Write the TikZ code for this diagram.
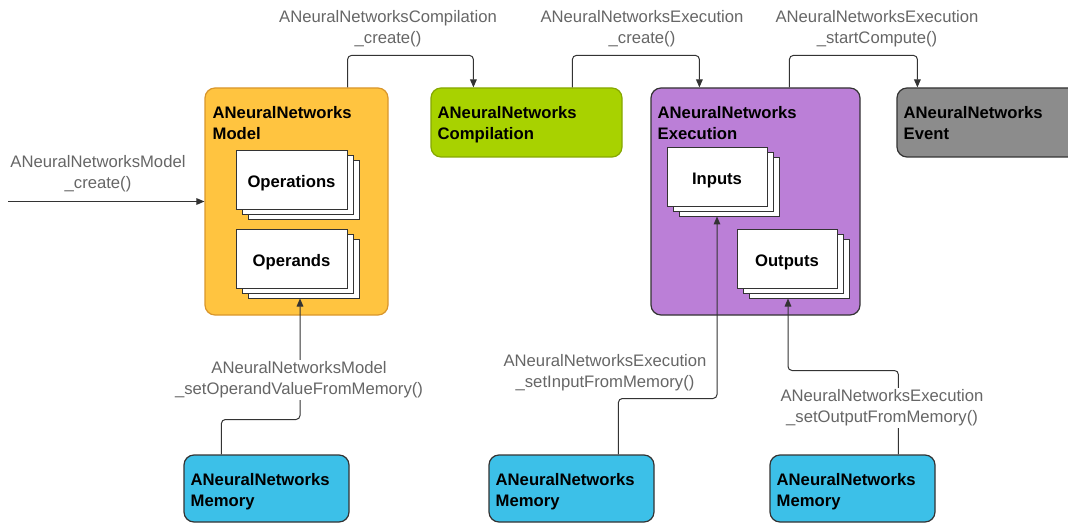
\documentclass[tikz,border=0pt]{standalone}
\usepackage{fontspec}
\setmainfont{Liberation Sans}
\usetikzlibrary{positioning, calc, arrows.meta, shadows}
\definecolor{Ink}{HTML}{333333}
\definecolor{Caption}{HTML}{666666}
\definecolor{ModelFill}{HTML}{FFC440}
\definecolor{ModelLine}{HTML}{D9962B}
\definecolor{CompFill}{HTML}{A8D200}
\definecolor{CompLine}{HTML}{86A800}
\definecolor{ExecFill}{HTML}{BB7FD7}
\definecolor{EventFill}{HTML}{8C8C8C}
\definecolor{MemFill}{HTML}{3CC0E8}
\tikzset{
    apibox/.style={rectangle, rounded corners=7.5pt, line width=0.9pt, inner sep=0pt},
    title/.style={anchor=north west, inner sep=0pt, align=left, text=black, font=\fontsize{12.5}{15.75}\selectfont\bfseries},
    stack/.style={rectangle, draw=Ink, fill=white, line width=0.75pt, inner sep=0pt,
        text height=11pt, text depth=0pt,
        font=\fontsize{12.5}{15}\selectfont\bfseries,
        double copy shadow={shadow xshift=4.5pt, shadow yshift=-3.75pt, fill=white, draw=Ink, line width=0.75pt}},
    call/.style={align=center, inner sep=1pt, text=Caption, font=\fontsize{12.5}{15.75}\selectfont},
    arr/.style={-{Triangle[length=6pt, width=5pt]}, line width=0.75pt, color=Ink, rounded corners=3pt},
}
\begin{document}
\begin{tikzpicture}[x=0.75pt, y=-0.75pt]
    \path[use as bounding box, clip] (0,0) rectangle (1068,524);

    % Oggetti principali
    \node[apibox, fill=ModelFill, draw=ModelLine, minimum width=137.25pt, minimum height=170.25pt] (model) at (296.5,201.5) {};
    \node[apibox, fill=CompFill, draw=CompLine, minimum width=143.25pt, minimum height=51.75pt] (comp) at (526.5,122.5) {};
    \node[apibox, fill=ExecFill, draw=Ink, minimum width=156.75pt, minimum height=170.25pt] (exec) at (755.5,201.5) {};
    \node[apibox, fill=EventFill, draw=Ink, minimum width=137.25pt, minimum height=51.75pt] (event) at (988.5,122.5) {};

    \node[title] (model-title) at ($(model.north west)+(8,19)$) {ANeuralNetworks\\Model};
    \node[title] (comp-title) at ($(comp.north west)+(7,19)$) {ANeuralNetworks\\Compilation};
    \node[title] (exec-title) at ($(exec.north west)+(7,19)$) {ANeuralNetworks\\Execution};
    \node[title] (event-title) at ($(event.north west)+(7,19)$) {ANeuralNetworks\\Event};

    % Blocchi di memoria
    \node[apibox, fill=MemFill, draw=Ink, minimum width=123.75pt, minimum height=50.25pt] (mem1) at (266.5,488.5) {};
    \node[apibox, fill=MemFill, draw=Ink, minimum width=123.75pt, minimum height=50.25pt] (mem2) at (571.5,488.5) {};
    \node[apibox, fill=MemFill, draw=Ink, minimum width=123.75pt, minimum height=50.25pt] (mem3) at (852.5,488.5) {};
    \foreach \m in {mem1, mem2, mem3}
        \node[title] (\m-title) at ($(\m.north west)+(7,19)$) {ANeuralNetworks\\Memory};

    % Pile interne
    \node[stack, minimum width=83.25pt, minimum height=44.25pt] (operations) at (291.5,180.5) {Operations};
    \node[stack, minimum width=83.25pt, minimum height=43.5pt] (operands) at (291.5,259) {Operands};
    \node[stack, minimum width=75pt, minimum height=44.25pt] (inputs) at (717,177.5) {Inputs};
    \node[stack, minimum width=75pt, minimum height=43.5pt] (outputs) at (787,259) {Outputs};

    % Chiamate di creazione
    \coordinate (entry) at (8,201.5);
    \draw[arr] (entry) -- (model);
    \node[call] (model-create) at (98,174) {ANeuralNetworksModel\\\_create()};

    \draw[arr] ($(model.north east)+(-41,0)$) |- ($(comp.north west)+(43,-32)$) -- ($(comp.north west)+(43,0)$);
    \node[call] (comp-create) at (388,29) {ANeuralNetworksCompilation\\\_create()};

    \draw[arr] ($(comp.north west)+(142,0)$) |- ($(exec.north west)+(49,-32)$) -- ($(exec.north west)+(49,0)$);
    \node[call] (exec-create) at (642,29) {ANeuralNetworksExecution\\\_create()};

    \draw[arr] ($(exec.north west)+(139,0)$) |- ($(event.north west)+(21,-32)$) -- ($(event.north west)+(21,0)$);
    \node[call] (exec-start) at (877,29) {ANeuralNetworksExecution\\\_startCompute()};

    % Collegamenti dalla memoria
    \draw[arr] ($(mem1.north west)+(38,0)$) |- ($(operands.south)+(8.5,131)$) -- ($(operands.south)+(8.5,10)$);
    \node[call, fill=white] (set-operand) at (299,380) {ANeuralNetworksModel\\\_setOperandValueFromMemory()};

    \draw[arr] ($(mem2.north west)+(130,0)$) |- ($(inputs.south)+(0,191)$) -- ($(inputs.south)+(0,9)$);
    \node[call] (set-input) at (605,373) {ANeuralNetworksExecution\\\_setInputFromMemory()};

    \draw[arr] ($(mem3.north west)+(129,0)$) |- ($(outputs.south)+(1,82)$) -- ($(outputs.south)+(1,10)$);
    \node[call, fill=white] (set-output) at (882,408) {ANeuralNetworksExecution\\\_setOutputFromMemory()};
\end{tikzpicture}
\end{document}
